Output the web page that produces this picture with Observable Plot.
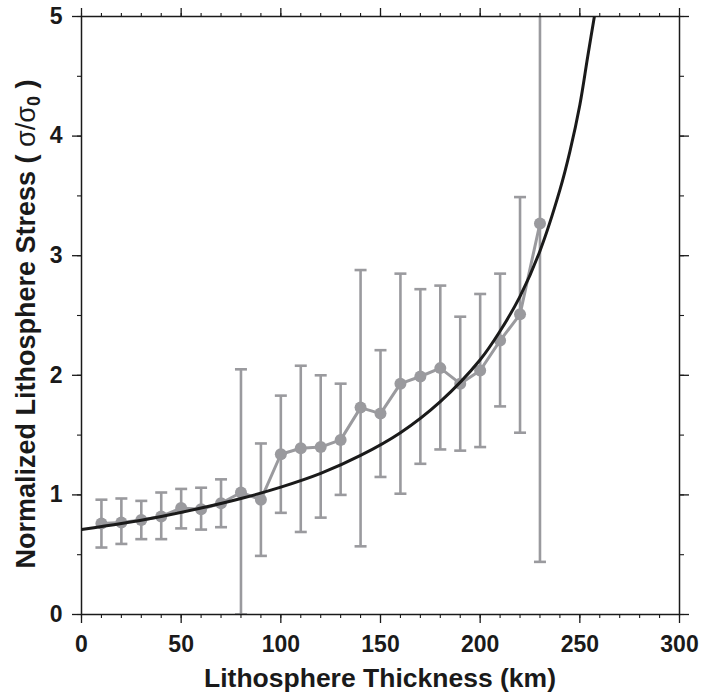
<!DOCTYPE html>
<html>
<head>
<meta charset="utf-8">
<script src="https://cdn.jsdelivr.net/npm/d3@7"></script>
<script src="https://cdn.jsdelivr.net/npm/@observablehq/plot@0.6"></script>
<style>
  html, body { margin: 0; padding: 0; background: #fff; }
  #chart svg { display: block; }
</style>
</head>
<body>
<div id="chart"></div>
<script>
// Observed data (thickness in km, normalized stress)
const thickness = [10,20,30,40,50,60,70,80,90,100,110,120,130,140,150,160,170,180,190,200,210,220,230];
const stressMean = [0.76,0.77,0.79,0.82,0.89,0.88,0.93,1.02,0.96,1.34,1.39,1.40,1.46,1.73,1.68,1.93,1.99,2.06,1.93,2.04,2.29,2.51,3.27];
const stressHigh = [0.96,0.97,0.95,1.02,1.05,1.06,1.13,2.05,1.43,1.83,2.08,2.00,1.93,2.88,2.21,2.85,2.72,2.75,2.49,2.68,2.85,3.49,5.30];
const stressLow  = [0.56,0.59,0.63,0.63,0.72,0.71,0.73,0.00,0.49,0.85,0.69,0.81,1.00,0.57,1.15,1.01,1.26,1.38,1.37,1.40,1.74,1.52,0.44];

// Model curve
const modelX = [0,20,40,60,80,100,120,140,160,180,200,210,220,230,240,245,250,254,258];
const modelY = [0.71,0.76,0.82,0.89,0.97,1.065,1.18,1.33,1.52,1.78,2.13,2.37,2.66,3.04,3.55,3.87,4.26,4.67,5.07];

// Axis ticks
const xMajor = [0,50,100,150,200,250,300];
const xMinor = d3.range(0, 301, 10);
const yMajor = [0,1,2,3,4,5];
const yMinor = d3.range(0, 5.01, 0.5);

const xLabel = "Lithosphere Thickness (km)";
const yLabelMain = "Normalized Lithosphere Stress ( ";

const obs = thickness.map((x, i) => ({x, y: stressMean[i], hi: stressHigh[i], lo: stressLow[i]}));
const model = modelX.map((x, i) => ({x, y: modelY[i]}));

const gray = "#9a9a9e";
const ink = "#1a1a1a";
const font = "'Liberation Sans', Arial, Helvetica, sans-serif";

const capSymbol = {
  draw(context, size) {
    const w = Math.sqrt(size / Math.PI);
    context.moveTo(-w, 0);
    context.lineTo(w, 0);
  }
};

const W = 714, H = 692;
const mL = 81, mR = 35, mT = 16, mB = 78;

const plot = Plot.plot({
  width: W,
  height: H,
  marginLeft: mL,
  marginRight: mR,
  marginTop: mT,
  marginBottom: mB,
  style: {fontFamily: font, fontWeight: "bold", color: ink, background: "#fff"},
  x: {domain: [0, 300]},
  y: {domain: [0, 5]},
  marks: [
    Plot.ruleX(obs, {x: "x", y1: "lo", y2: "hi", stroke: gray, strokeWidth: 2.6, clip: true}),
    Plot.dot(obs, {x: "x", y: "hi", symbol: capSymbol, r: 6, stroke: gray, strokeWidth: 2.6, clip: true}),
    Plot.dot(obs, {x: "x", y: "lo", symbol: capSymbol, r: 6, stroke: gray, strokeWidth: 2.6, clip: true}),
    Plot.line(obs, {x: "x", y: "y", stroke: gray, strokeWidth: 3}),
    Plot.dot(obs, {x: "x", y: "y", r: 6, fill: gray, stroke: "none"}),
    Plot.line(model, {x: "x", y: "y", curve: "catmull-rom", stroke: ink, strokeWidth: 3, clip: true}),
    Plot.frame({stroke: ink, strokeWidth: 1.5}),
    // bottom axis
    Plot.axisX({anchor: "bottom", ticks: xMajor, tickFormat: "d", tickSize: 9, tickPadding: 12, fontSize: 23, label: null, strokeWidth: 1.3}),
    Plot.axisX({anchor: "bottom", ticks: xMinor, tickSize: 4, fill: "none", label: null, strokeWidth: 1.1}),
    // top axis
    Plot.axisX({anchor: "top", ticks: xMajor, tickSize: 9, fill: "none", label: null, strokeWidth: 1.3}),
    Plot.axisX({anchor: "top", ticks: xMinor, tickSize: 4, fill: "none", label: null, strokeWidth: 1.1}),
    // left axis
    Plot.axisY({anchor: "left", ticks: yMajor, tickFormat: "d", tickSize: 9, tickPadding: 10, fontSize: 23, label: null, strokeWidth: 1.3}),
    Plot.axisY({anchor: "left", ticks: yMinor, tickSize: 4, fill: "none", label: null, strokeWidth: 1.1}),
    // right axis
    Plot.axisY({anchor: "right", ticks: yMajor, tickSize: 9, fill: "none", label: null, strokeWidth: 1.3}),
    Plot.axisY({anchor: "right", ticks: yMinor, tickSize: 4, fill: "none", label: null, strokeWidth: 1.1})
  ]
});

const svg = d3.select(plot);
// x axis label
svg.append("text")
  .attr("x", mL + (W - mL - mR) / 2)
  .attr("y", 687)
  .attr("text-anchor", "middle")
  .style("font-family", font)
  .style("font-weight", "bold")
  .style("font-size", "26.5px")
  .attr("fill", ink)
  .text(xLabel);

// y axis label with sigma and subscript
const yl = svg.append("text")
  .attr("transform", `translate(35, 324) rotate(-90)`)
  .attr("text-anchor", "middle")
  .style("font-family", font)
  .style("font-weight", "bold")
  .style("font-size", "27px")
  .attr("fill", ink);
yl.append("tspan").text(yLabelMain);
yl.append("tspan").style("font-weight", "normal").text("σ/σ");
yl.append("tspan").style("font-weight", "bold").style("font-size", "18px").attr("dy", "5").text("0");
yl.append("tspan").attr("dy", "-5").text(" )");

document.getElementById("chart").appendChild(plot);
</script>
</body>
</html>
